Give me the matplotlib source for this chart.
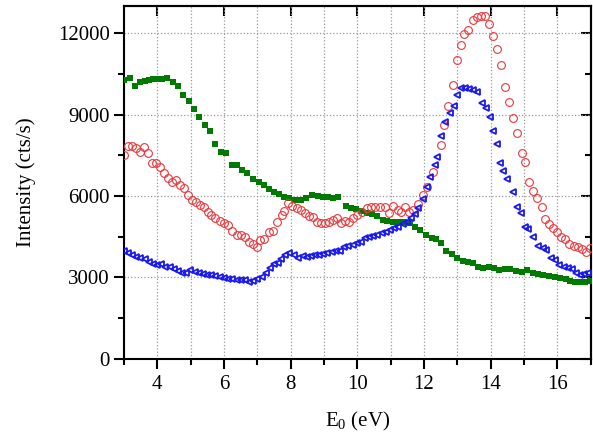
import numpy as np
from matplotlib import pyplot as plt
from matplotlib.ticker import MultipleLocator, NullLocator

plt.rcParams['font.family'] = ['Liberation Serif', 'DejaVu Serif']
plt.rcParams['mathtext.default'] = 'regular'

# green squares
e_green = [3.01, 3.17, 3.33, 3.49, 3.62, 3.75, 3.87, 4.00, 4.13, 4.30, 4.47, 4.63, 4.78, 4.94,
           5.11, 5.26, 5.43, 5.59, 5.74, 5.91, 6.07, 6.25, 6.38, 6.54, 6.70, 6.87, 7.04, 7.20,
           7.35, 7.50, 7.66, 7.80, 7.95, 8.13, 8.30, 8.46, 8.65, 8.81, 8.96, 9.11, 9.28, 9.43,
           9.66, 9.81, 9.96, 10.10, 10.28, 10.43, 10.58, 10.76, 10.90, 11.08, 11.23, 11.41, 11.58,
           11.73, 11.88, 12.06, 12.23, 12.36, 12.50, 12.66, 12.83, 13.00, 13.16, 13.33, 13.48,
           13.63, 13.78, 13.95, 14.10, 14.26, 14.43, 14.58, 14.76, 14.93, 15.08, 15.26, 15.43,
           15.58, 15.76, 15.93, 16.08, 16.26, 16.38, 16.53, 16.68, 16.83, 16.98]
i_green = [10260, 10340, 10040, 10200, 10230, 10270, 10300, 10320, 10330, 10340, 10200, 10070,
           9730, 9510, 9190, 8920, 8600, 8380, 7910, 7620, 7570, 7140, 7130, 6960, 6840, 6610,
           6530, 6400, 6270, 6160, 6060, 5970, 5910, 5850, 5850, 5910, 6040, 6010, 5970, 5970,
           5910, 5970, 5630, 5570, 5510, 5460, 5390, 5340, 5280, 5120, 5090, 5050, 5050, 5030,
           4990, 4870, 4750, 4560, 4440, 4400, 4280, 3980, 3850, 3710, 3610, 3560, 3520, 3400,
           3340, 3400, 3340, 3280, 3310, 3300, 3250, 3210, 3280, 3180, 3130, 3090, 3060, 3010,
           2970, 2930, 2880, 2850, 2820, 2820, 2870]

# red open circles
e_red = [3.00, 3.12, 3.24, 3.37, 3.49, 3.60, 3.72, 3.83, 3.95, 4.07, 4.19, 4.32, 4.44, 4.57,
         4.69, 4.80, 4.92, 5.04, 5.17, 5.27, 5.39, 5.52, 5.62, 5.74, 5.87, 5.99, 6.12, 6.24,
         6.38, 6.50, 6.62, 6.74, 6.87, 6.98, 7.07, 7.20, 7.35, 7.46, 7.58, 7.73, 7.80, 7.92,
         8.05, 8.18, 8.30, 8.43, 8.56, 8.68, 8.80, 8.90, 9.03, 9.16, 9.28, 9.38, 9.51, 9.63,
         9.76, 9.88, 10.00, 10.13, 10.28, 10.40, 10.53, 10.68, 10.83, 10.96, 11.08, 11.21,
         11.31, 11.43, 11.56, 11.68, 11.83, 11.96, 12.10, 12.26, 12.50, 12.60, 12.73, 12.86,
         12.98, 13.10, 13.21, 13.33, 13.46, 13.58, 13.71, 13.83, 13.95, 14.08, 14.18, 14.31,
         14.43, 14.56, 14.68, 14.80, 14.93, 15.03, 15.16, 15.28, 15.38, 15.53, 15.63, 15.76,
         15.88, 16.00, 16.11, 16.23, 16.36, 16.49, 16.61, 16.74, 16.86, 16.97]
i_red = [7520, 7840, 7840, 7755, 7630, 7790, 7570, 7225, 7200, 7078, 6835, 6650, 6526, 6588,
         6404, 6282, 6036, 5852, 5790, 5668, 5606, 5422, 5300, 5178, 5091, 5017, 4932, 4723,
         4564, 4564, 4479, 4317, 4232, 4111, 4380, 4405, 4685, 4711, 5053, 5300, 5458, 5730,
         5631, 5569, 5484, 5362, 5263, 5238, 5053, 4994, 4994, 5053, 5116, 5178, 4994, 5091,
         5053, 5178, 5300, 5422, 5546, 5583, 5583, 5606, 5583, 5362, 5631, 5484, 5422, 5583,
         5422, 5484, 5705, 6036, 6320, 6872, 7876, 8612, 9300, 10110, 11005, 11570, 11975,
         12120, 12490, 12600, 12620, 12630, 12355, 11888, 11420, 10820, 10010, 9470, 8890,
         8340, 7580, 7262, 6504, 6180, 5940, 5583, 5140, 4969, 4834, 4685, 4479, 4405, 4222,
         4159, 4134, 4038, 3950, 4074]

# blue left triangles
e_blue = [3.00, 3.12, 3.24, 3.37, 3.49, 3.62, 3.75, 3.87, 3.99, 4.12, 4.24, 4.37, 4.49, 4.62,
          4.74, 4.87, 4.99, 5.12, 5.24, 5.37, 5.49, 5.62, 5.74, 5.87, 5.99, 6.12, 6.24, 6.38,
          6.50, 6.62, 6.74, 6.87, 6.99, 7.13, 7.25, 7.38, 7.50, 7.63, 7.72, 7.83, 7.95, 8.10,
          8.23, 8.36, 8.48, 8.60, 8.73, 8.86, 8.98, 9.10, 9.23, 9.36, 9.48, 9.60, 9.73, 9.86,
          9.98, 10.10, 10.23, 10.36, 10.48, 10.60, 10.73, 10.86, 10.98, 11.10, 11.23, 11.36,
          11.48, 11.60, 11.73, 11.83, 11.96, 12.08, 12.18, 12.33, 12.40, 12.50, 12.63, 12.78,
          12.91, 12.98, 13.10, 13.23, 13.36, 13.48, 13.60, 13.73, 13.85, 13.98, 14.08, 14.18,
          14.28, 14.38, 14.50, 14.66, 14.78, 14.91, 15.03, 15.13, 15.28, 15.43, 15.56, 15.66,
          15.80, 15.93, 16.06, 16.20, 16.31, 16.43, 16.56, 16.68, 16.81, 16.93]
i_blue = [3986, 3890, 3828, 3766, 3730, 3669, 3582, 3497, 3460, 3485, 3397, 3374, 3301, 3250,
          3176, 3154, 3276, 3213, 3154, 3128, 3092, 3092, 3055, 3029, 2992, 2933, 2933, 2908,
          2908, 2908, 2845, 2882, 2933, 3007, 3154, 3338, 3497, 3522, 3669, 3828, 3912, 3828,
          3706, 3791, 3766, 3791, 3828, 3828, 3865, 3890, 3950, 3986, 3975, 4111, 4159, 4196,
          4258, 4317, 4442, 4479, 4527, 4564, 4626, 4685, 4748, 4810, 4870, 4969, 5053, 5178,
          5337, 5546, 5878, 6342, 6710, 7140, 7446, 8207, 8734, 9043, 9312, 9716, 10000, 10000,
          9963, 9900, 9839, 9411, 9227, 8918, 8403, 7913, 7225, 6930, 6614, 6158, 5583, 5362,
          4870, 4773, 4479, 4159, 4074, 4012, 3706, 3644, 3460, 3397, 3338, 3301, 3154, 3092,
          3128, 3176]

fig = plt.figure(figsize=(5.93, 4.36), dpi=100)
ax = fig.add_axes([0.209, 0.177, 0.787, 0.809])

ax.plot(e_green, i_green, 's', color='#007a00', markersize=4.8, markeredgewidth=0, zorder=3)
ax.plot(e_red, i_red, 'o', color='#e8383c', markerfacecolor='none', markersize=5.6,
        markeredgewidth=0.8, zorder=3)
ax.plot(e_blue, i_blue, '<', color='#1a1aee', markerfacecolor='none', markersize=5,
        markeredgewidth=1.3, zorder=3)

ax.set_xlim(3, 17)
ax.set_ylim(0, 13000)
ax.xaxis.set_major_locator(MultipleLocator(2))
ax.xaxis.set_minor_locator(MultipleLocator(1))
ax.yaxis.set_major_locator(MultipleLocator(3000))
ax.yaxis.set_minor_locator(MultipleLocator(1500))

ax.grid(True, which='major', linestyle=':', color='#999999', linewidth=0.9)
ax.grid(True, which='minor', axis='x', linestyle=':', color='#999999', linewidth=0.9)

# left / bottom ticks point outwards
ax.tick_params(which='both', direction='out', width=1.5, labelsize=15)
ax.tick_params(which='major', length=7)
ax.tick_params(which='minor', length=4.5)
ax.tick_params(axis='x', pad=5)
ax.tick_params(axis='y', pad=3)
for s in ax.spines.values():
    s.set_linewidth(1.5)

# top / right ticks point inwards
top = ax.secondary_xaxis('top')
top.xaxis.set_major_locator(MultipleLocator(2))
top.xaxis.set_minor_locator(NullLocator())
top.tick_params(direction='in', length=7, width=1.5, labeltop=False)
top.spines['top'].set_linewidth(1.5)

right = ax.secondary_yaxis('right')
right.yaxis.set_major_locator(MultipleLocator(3000))
right.yaxis.set_minor_locator(MultipleLocator(1500))
right.tick_params(which='both', direction='in', width=1.5, labelright=False)
right.tick_params(which='major', length=7)
right.tick_params(which='minor', length=4.5)
right.spines['right'].set_linewidth(1.5)

ax.set_xlabel('E$_0$ (eV)', fontsize=15, labelpad=11)
ax.set_ylabel('Intensity (cts/s)', fontsize=15, labelpad=16)

fig.savefig('out.png', dpi=100)
